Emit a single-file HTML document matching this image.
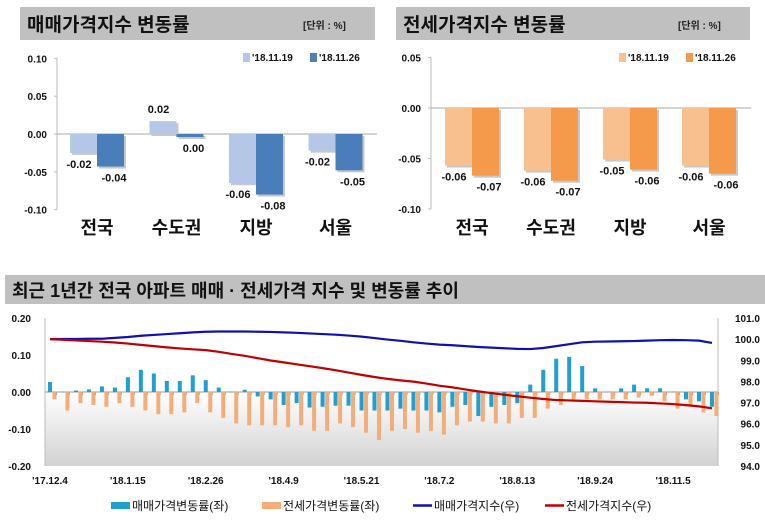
<!DOCTYPE html>
<html><head><meta charset="utf-8">
<style>
body{margin:0;background:#fff;width:765px;height:522px;overflow:hidden;font-family:"Liberation Sans","Noto Sans CJK KR",sans-serif;}
svg text{font-family:"Liberation Sans","Noto Sans CJK KR",sans-serif;}
</style></head>
<body>
<svg id="root" width="765" height="522" viewBox="0 0 765 522" xmlns="http://www.w3.org/2000/svg">
<defs>
<linearGradient id="pg" x1="0" y1="0" x2="0" y2="1">
<stop offset="0" stop-color="#ffffff"/><stop offset="0.5" stop-color="#ffffff"/><stop offset="1" stop-color="#d2d2d2"/>
</linearGradient>
</defs>
<!-- headers -->
<rect x="20" y="7" width="355" height="33" fill="#c0c0c0"/>
<text x="27" y="31" font-size="19" font-weight="bold" fill="#111">매매가격지수 변동률</text>
<text x="303" y="29" font-size="10" font-weight="bold" fill="#222">[단위 : %]</text>
<rect x="396" y="7" width="354" height="33" fill="#c0c0c0"/>
<text x="403" y="31" font-size="19" font-weight="bold" fill="#111">전세가격지수 변동률</text>
<text x="678" y="29" font-size="10" font-weight="bold" fill="#222">[단위 : %]</text>
<rect x="5" y="275" width="760" height="29" fill="#c0c0c0"/>
<text x="12" y="297" font-size="18" font-weight="bold" fill="#111">최근 1년간 전국 아파트 매매 · 전세가격 지수 및 변동률 추이</text>
<g id="g1"></g><g id="g2"></g><g id="g3"></g>
</svg>
<script>
// ---- top charts data ----
const regions = ['전국','수도권','지방','서울'];
const saleWeek1 = [-0.025, 0.017, -0.065, -0.022];
const saleWeek2 = [-0.043, -0.004, -0.080, -0.048];
const saleLabel1 = ['-0.02','0.02','-0.06','-0.02'];
const saleLabel2 = ['-0.04','0.00','-0.08','-0.05'];
const saleTicks = [0.10, 0.05, 0.00, -0.05, -0.10];
const jeonseWeek1 = [-0.057, -0.062, -0.051, -0.057];
const jeonseWeek2 = [-0.067, -0.072, -0.061, -0.065];
const jeonseLabel1 = ['-0.06','-0.06','-0.05','-0.06'];
const jeonseLabel2 = ['-0.07','-0.07','-0.06','-0.06'];
const jeonseTicks = [0.05, 0.00, -0.05, -0.10];
const weekNames = ["'18.11.19","'18.11.26"];
// ---- bottom chart data ----
const weekLabels = ["'17.12.4","'18.1.15","'18.2.26","'18.4.9","'18.5.21","'18.7.2","'18.8.13","'18.9.24","'18.11.5"];
const saleRate = [0.027,0.001,0.004,0.007,0.015,0.012,0.04,0.06,0.05,0.03,0.03,0.045,0.032,0.012,0.001,0.006,-0.012,-0.02,-0.035,-0.03,-0.042,-0.04,-0.037,-0.037,-0.05,-0.05,
 -0.05,-0.045,-0.05,-0.05,-0.055,-0.04,-0.035,-0.065,-0.04,-0.035,-0.03,0.02,0.06,0.09,0.095,0.07,0.01,0.001,0.01,0.02,0.01,0.01,0.001,-0.02,-0.025,-0.04];
const jeonseRate = [-0.02,-0.05,-0.03,-0.035,-0.04,-0.03,-0.04,-0.05,-0.06,-0.06,-0.055,-0.03,-0.055,-0.07,-0.085,-0.09,-0.09,-0.09,-0.095,-0.09,-0.105,-0.105,-0.085,-0.095,-0.11,-0.13,
 -0.105,-0.1,-0.11,-0.105,-0.115,-0.09,-0.08,-0.08,-0.085,-0.085,-0.07,-0.07,-0.045,-0.035,-0.02,-0.02,-0.02,-0.02,-0.02,-0.015,-0.01,-0.025,-0.045,-0.035,-0.055,-0.065];
const saleIndex = [100.0,100.01,100.01,100.02,100.02,100.06,100.10,100.16,100.20,100.24,100.28,100.32,100.35,100.36,100.36,100.36,100.35,100.34,100.32,100.30,100.27,100.24,100.21,100.17,100.12,100.05,
 99.98,99.92,99.85,99.79,99.74,99.71,99.67,99.63,99.60,99.57,99.54,99.53,99.58,99.67,99.76,99.85,99.88,99.89,99.90,99.91,99.93,99.95,99.96,99.95,99.93,99.82];
const jeonseIndex = [100.0,99.97,99.94,99.91,99.88,99.84,99.79,99.73,99.67,99.61,99.56,99.52,99.48,99.40,99.30,99.21,99.10,98.99,98.90,98.81,98.72,98.63,98.53,98.42,98.31,98.21,
 98.12,98.05,97.99,97.90,97.80,97.72,97.62,97.53,97.45,97.37,97.30,97.23,97.17,97.12,97.10,97.08,97.06,97.04,97.02,97.00,96.99,96.96,96.93,96.88,96.82,96.73];
const leftTicks = [0.20,0.10,0.00,-0.10,-0.20];
const rightTicks = [101.0,100.0,99.0,98.0,97.0,96.0,95.0,94.0];

const NS='http://www.w3.org/2000/svg';
function mk(parent,tag,attrs){const e=document.createElementNS(NS,tag);for(const k in attrs)e.setAttribute(k,attrs[k]);parent.appendChild(e);return e;}
function txt(parent,x,y,s,attrs){const e=mk(parent,'text',Object.assign({x:x,y:y},attrs));e.textContent=s;return e;}

function barPanel(g, cfg){
  const y = v => cfg.y0 - v*cfg.pxPer;
  mk(g,'line',{x1:cfg.ax,y1:y(cfg.ticks[0]),x2:cfg.ax,y2:y(cfg.ticks[cfg.ticks.length-1]),stroke:'#bbb'});
  cfg.ticks.forEach(t=>{
    const e=txt(g,cfg.ax-10,y(t)+4,t.toFixed(2),{'font-size':10,'font-weight':'bold','text-anchor':'end',fill:'#111'});
    
    
    mk(g,'line',{x1:cfg.ax-3,y1:y(t),x2:cfg.ax,y2:y(t),stroke:'#bbb'});
  });
  mk(g,'line',{x1:cfg.ax,y1:y(0),x2:cfg.ax+320,y2:y(0),stroke:'#aaa'});
  regions.forEach((r,i)=>{
    const cx=cfg.c0+i*cfg.step;
    [cfg.s1,cfg.s2].forEach((s,k)=>{
      const v=s[i]; const x=cx-27+k*27;
      const top=Math.min(y(0),y(v)), h=Math.max(1,Math.abs(y(v)-y(0)));
      mk(g,'rect',{x:x+2,y:top+2,width:27,height:h,fill:'#c8c8c8'});
      const b=mk(g,'rect',{x:x,y:top,width:27,height:h,fill:cfg.colors[k]});
      
      
      const lab=(k?cfg.l2:cfg.l1)[i];
      const ly = v>=0 ? (k?y(0)+22:top-8) : y(v)+15;
      const t=txt(g,x+13+(k?4:-4),ly,lab,{'font-size':11,'font-weight':'bold','text-anchor':'middle',fill:'#111'});
      
      
    });
    const c=txt(g,cx,cfg.catY,r,{'font-size':18,'font-weight':'bold','text-anchor':'middle',fill:'#111'});
    
    
  });
  weekNames.forEach((w,k)=>{
    const lx=cfg.legX+k*67;
    const sq=mk(g,'rect',{x:lx,y:cfg.legY-8,width:7,height:9,fill:cfg.colors[k]});
    
    
    const t=txt(g,lx+9,cfg.legY,w,{'font-size':10,'font-weight':'bold',fill:'#111'});
    
    
  });
}
barPanel(document.getElementById('g1'),{ax:57,y0:134,pxPer:757,ticks:saleTicks,c0:97,step:79.5,s1:saleWeek1,s2:saleWeek2,l1:saleLabel1,l2:saleLabel2,colors:['#b4c7e7','#4a7ebb'],catY:234,legX:243,legY:61});
barPanel(document.getElementById('g2'),{ax:431,y0:108,pxPer:1010,ticks:jeonseTicks,c0:472,step:79,s1:jeonseWeek1,s2:jeonseWeek2,l1:jeonseLabel1,l2:jeonseLabel2,colors:['#f8c08e','#f59a4a'],catY:234,legX:619,legY:61});

// bottom chart
(function(){
  const g=document.getElementById('g3');
  const L=45,R=718,T=318,B=466;
  const x = i => 50 + i*12.98;
  const yl = v => 392 - v*370;
  const yr = v => T + (101-v)*(B-T)/7;
  const bg=mk(g,'rect',{x:L,y:T,width:R-L,height:B-T,fill:'url(#pg)'});
  
  
  mk(g,'line',{x1:L,y1:T,x2:L,y2:B,stroke:'#bbb'});
  mk(g,'line',{x1:R,y1:T,x2:R,y2:B,stroke:'#bbb'});
  mk(g,'line',{x1:L,y1:yl(0),x2:R,y2:yl(0),stroke:'#999'});
  leftTicks.forEach(t=>{
    const e=txt(g,31,yl(t)+4,t.toFixed(2),{'font-size':10,'font-weight':'bold','text-anchor':'end',fill:'#111'});
    
    
  });
  rightTicks.forEach(t=>{
    const e=txt(g,760,yr(t)+4,t.toFixed(1),{'font-size':10,'font-weight':'bold','text-anchor':'end',fill:'#111'});
    
    
  });
  saleRate.forEach((v,i)=>{
    mk(g,'line',{x1:x(i)+6.5,y1:yl(0),x2:x(i)+6.5,y2:yl(0)+3,stroke:'#999'});
    const b=mk(g,'rect',{x:x(i)-2,y:Math.min(yl(0),yl(v)),width:4,height:Math.max(0.5,Math.abs(yl(v)-yl(0))),fill:'#1fa0d0'});
    
    
  });
  jeonseRate.forEach((v,i)=>{
    const b=mk(g,'rect',{x:x(i)+2.5,y:Math.min(yl(0),yl(v)),width:4,height:Math.max(0.5,Math.abs(yl(v)-yl(0))),fill:'#f4ad78'});
    
    
  });
  const p1=mk(g,'polyline',{points:saleIndex.map((v,i)=>x(i)+','+yr(v)).join(' '),fill:'none',stroke:'#1010b0','stroke-width':2.2});
  
  
  const p2=mk(g,'polyline',{points:jeonseIndex.map((v,i)=>x(i)+','+yr(v)).join(' '),fill:'none',stroke:'#c00000','stroke-width':2.2});
  
  
  weekLabels.forEach((w,k)=>{
    const e=txt(g,x(k*6),484,w,{'font-size':10,'font-weight':'bold','text-anchor':'middle',fill:'#111'});
    
    
  });
  const leg=[['rect','#1fa0d0',111,'매매가격변동률(좌)'],['rect','#f4ad78',262,'전세가격변동률(좌)'],['line','#1010b0',413,'매매가격지수(우)'],['line','#c00000',545,'전세가격지수(우)']];
  leg.forEach(l=>{
    if(l[0]==='rect'){const s=mk(g,'rect',{x:l[2],y:502,width:19,height:7,fill:l[1]});}
    else{const s=mk(g,'line',{x1:l[2],y1:505.5,x2:l[2]+19,y2:505.5,stroke:l[1],'stroke-width':2.5});}
    const t=txt(g,l[2]+21,510,l[3],{'font-size':12,fill:'#111'});
    
    
  });
})();
</script>
</body></html>
